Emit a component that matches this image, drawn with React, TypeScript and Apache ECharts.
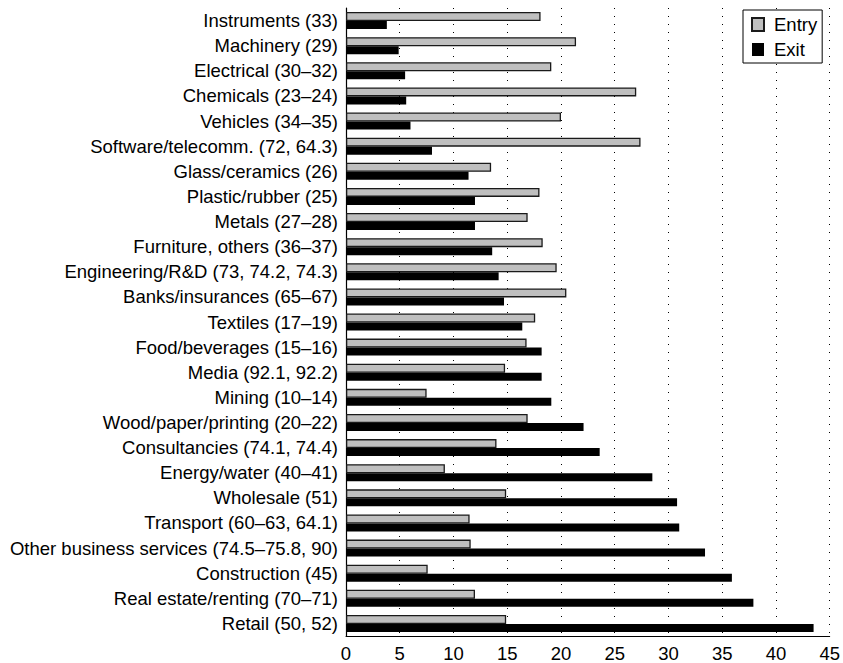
import React, { useEffect, useRef } from "react";
import * as echarts from "echarts";

// Industry sectors, top to bottom
const categories = [
  "Instruments (33)",
  "Machinery (29)",
  "Electrical (30–32)",
  "Chemicals (23–24)",
  "Vehicles (34–35)",
  "Software/telecomm. (72, 64.3)",
  "Glass/ceramics (26)",
  "Plastic/rubber (25)",
  "Metals (27–28)",
  "Furniture, others (36–37)",
  "Engineering/R&D (73, 74.2, 74.3)",
  "Banks/insurances (65–67)",
  "Textiles (17–19)",
  "Food/beverages (15–16)",
  "Media (92.1, 92.2)",
  "Mining (10–14)",
  "Wood/paper/printing (20–22)",
  "Consultancies (74.1, 74.4)",
  "Energy/water (40–41)",
  "Wholesale (51)",
  "Transport (60–63, 64.1)",
  "Other business services (74.5–75.8, 90)",
  "Construction (45)",
  "Real estate/renting (70–71)",
  "Retail (50, 52)",
];

const entryRates = [
  18.1, 21.4, 19.1, 27.0, 20.0, 27.4, 13.5, 18.0, 16.9, 18.3, 19.6, 20.5, 17.6,
  16.8, 14.8, 7.5, 16.9, 14.0, 9.2, 14.9, 11.5, 11.6, 7.6, 12.0, 14.9,
];

const exitRates = [
  3.8, 4.9, 5.5, 5.6, 6.0, 8.0, 11.4, 12.0, 12.0, 13.6, 14.2, 14.7, 16.4, 18.2,
  18.2, 19.1, 22.1, 23.6, 28.5, 30.8, 31.0, 33.4, 35.9, 37.9, 43.5,
];

const xTicks = { min: 0, max: 45, interval: 5 };

const FONT = "'Liberation Sans', Arial, Helvetica, sans-serif";
const FONT_SIZE = 18.5;

export default function App() {
  const ref = useRef<HTMLDivElement>(null);

  useEffect(() => {
    if (!ref.current) return;
    const chart = echarts.init(ref.current, null, { renderer: "svg" });
    chart.setOption({
      animation: false,
      backgroundColor: "#ffffff",
      textStyle: { fontFamily: FONT },
      grid: { left: 346, right: 12, top: 8, bottom: 27, containLabel: false },
      legend: {
        orient: "vertical",
        left: 743,
        top: 10,
        icon: "rect",
        itemWidth: 12,
        itemHeight: 13,
        itemGap: 6,
        padding: [5, 5, 4, 8],
        borderColor: "#000",
        borderWidth: 1,
        backgroundColor: "#fff",
        textStyle: {
          fontSize: FONT_SIZE,
          color: "#000",
          fontFamily: FONT,
          padding: [0, 0, 0, 5],
        },
        data: ["Entry", "Exit"],
      },
      xAxis: {
        type: "value",
        min: xTicks.min,
        max: xTicks.max,
        interval: xTicks.interval,
        axisLine: { show: true, lineStyle: { color: "#000", width: 1 } },
        axisTick: { show: false },
        axisLabel: { fontSize: FONT_SIZE, color: "#000", margin: 8, fontFamily: FONT },
        splitLine: {
          show: true,
          lineStyle: { color: "#000", width: 1, type: [1, 7] },
        },
      },
      yAxis: {
        type: "category",
        inverse: true,
        data: categories,
        axisLine: { show: true, lineStyle: { color: "#000", width: 1.2 } },
        axisTick: { show: false },
        axisLabel: { fontSize: FONT_SIZE, color: "#000", margin: 8, fontFamily: FONT },
        splitLine: { show: false },
      },
      series: [
        {
          name: "Entry",
          type: "bar",
          data: entryRates,
          barWidth: 9,
          barGap: "0%",
          itemStyle: { color: "#bfbfbf", borderColor: "#1a1a1a", borderWidth: 1.3 },
        },
        {
          name: "Exit",
          type: "bar",
          data: exitRates,
          barWidth: 8,
          barGap: "0%",
          itemStyle: { color: "#000", borderColor: "#000", borderWidth: 0 },
        },
      ],
    });
    return () => chart.dispose();
  }, []);

  return (
    <div
      ref={ref}
      style={{ position: "fixed", left: 0, top: 0, width: 843, height: 663 }}
    />
  );
}
